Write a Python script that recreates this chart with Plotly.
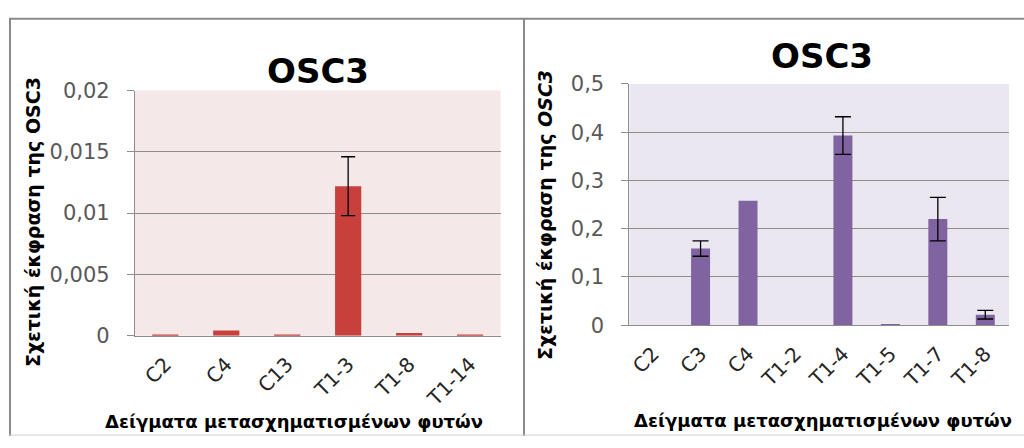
import plotly.graph_objects as go

# ---- data ----
left_categories = ["C2", "C4", "C13", "T1-3", "T1-8", "T1-14"]
left_values = [0.00003, 0.00042, 0.00004, 0.0122, 0.00022, 0.00004]
left_errors = [0, 0, 0, 0.0024, 0, 0]

right_categories = ["C2", "C3", "C4", "T1-2", "T1-4", "T1-5", "T1-7", "T1-8"]
right_values = [0, 0.159, 0.258, 0, 0.393, 0.002, 0.220, 0.022]
right_errors = [0, 0.016, 0, 0, 0.039, 0, 0.045, 0.009]

chart_title = "OSC3"
y_title_left = "<b>Σχετική έκφραση της OSC3</b>"
y_title_right = "<b>Σχετική έκφραση της <i>OSC3</i></b>"
x_title = "<b>Δείγματα μετασχηματισμένων φυτών</b>"

W, H = 1024, 448
def px(x):
    return x / W
def py(y):
    return 1 - y / H

FONT = "DejaVu Sans"
fig = go.Figure()

def add_panel(cats, vals, errs, color, xa, ya, width, cap):
    fig.add_trace(go.Bar(
        x=cats, y=vals,
        marker=dict(color=color, line=dict(width=0)),
        width=width, xaxis=xa, yaxis=ya, showlegend=False,
    ))
    ex = [c for c, e in zip(cats, errs) if e > 0]
    ey = [v for v, e in zip(vals, errs) if e > 0]
    ee = [e for e in errs if e > 0]
    fig.add_trace(go.Scatter(
        x=ex, y=ey, mode="markers", marker=dict(size=1, color="rgba(0,0,0,0)"),
        error_y=dict(type="data", array=ee, visible=True, color="black", thickness=1.3, width=cap),
        xaxis=xa, yaxis=ya, showlegend=False, hoverinfo="skip",
    ))

add_panel(left_categories, left_values, left_errors, "#c8403c", "x", "y", 0.43, 7)
add_panel(right_categories, right_values, right_errors, "#8064a2", "x2", "y2", 0.4, 8)

grid = "#8c8c8c"
common_y = dict(showgrid=True, gridcolor=grid, gridwidth=1, showline=True, linecolor=grid,
                ticks="outside", ticklen=7, tickcolor=grid, zeroline=False,
                ticklabelstandoff=13,
                tickfont=dict(family=FONT, size=21, color="#595959"))
common_x = dict(showgrid=False, showline=True, linecolor=grid, linewidth=1, ticks="",
                tickangle=-45, ticklabelstandoff=8,
                tickfont=dict(family=FONT, size=20, color="#262626"))

fig.update_layout(
    width=W, height=H,
    margin=dict(l=0, r=0, t=0, b=0),
    paper_bgcolor="white", plot_bgcolor="rgba(0,0,0,0)",
    separators=",.",
    xaxis=dict(domain=[px(134), px(500)], anchor="y", **common_x),
    yaxis=dict(domain=[py(342), py(83)], anchor="x", range=[0, 0.02], dtick=0.005, **common_y),
    xaxis2=dict(domain=[px(629), px(1009)], anchor="y2", **common_x),
    yaxis2=dict(domain=[py(331), py(76)], anchor="x2", range=[0, 0.5], dtick=0.1, **common_y),
)

# plot area backgrounds
fig.add_shape(type="rect", xref="x domain", yref="y domain", x0=0, x1=1, y0=0, y1=1,
              fillcolor="#f4e8e8", line=dict(width=0), layer="below")
fig.add_shape(type="rect", xref="x2 domain", yref="y2 domain", x0=0, x1=1, y0=0, y1=1,
              fillcolor="#ebe7f1", line=dict(width=0), layer="below")

# panel borders
border = "#8a8a8a"
fig.add_shape(type="line", xref="paper", yref="paper", x0=px(8), x1=1, y0=py(7), y1=py(7),
              line=dict(color=border, width=2))
fig.add_shape(type="line", xref="paper", yref="paper", x0=px(9), x1=px(9), y0=py(7), y1=0,
              line=dict(color=border, width=2))
fig.add_shape(type="line", xref="paper", yref="paper", x0=px(523.5), x1=px(523.5), y0=py(7), y1=0,
              line=dict(color=border, width=2))
fig.add_shape(type="line", xref="paper", yref="paper", x0=px(8), x1=1, y0=py(447), y1=py(447),
              line=dict(color="#d0d0d0", width=1))

ann = []
ann.append(dict(text=f"<b>{chart_title}</b>", x=px(317), y=py(62), xref="paper", yref="paper",
                showarrow=False, xanchor="center", yanchor="middle",
                font=dict(family=FONT, size=34, color="black")))
ann.append(dict(text=f"<b>{chart_title}</b>", x=px(822), y=py(47), xref="paper", yref="paper",
                showarrow=False, xanchor="center", yanchor="middle",
                font=dict(family=FONT, size=34, color="black")))
ann.append(dict(text=y_title_left, x=px(32), y=py(222), xref="paper", yref="paper", textangle=-90,
                showarrow=False, xanchor="center", yanchor="middle",
                font=dict(family=FONT, size=19, color="black")))
ann.append(dict(text=y_title_right, x=px(544), y=py(214), xref="paper", yref="paper", textangle=-90,
                showarrow=False, xanchor="center", yanchor="middle",
                font=dict(family=FONT, size=19, color="black")))
ann.append(dict(text=x_title, x=px(293), y=py(433), xref="paper", yref="paper",
                showarrow=False, xanchor="center", yanchor="middle",
                font=dict(family=FONT, size=18, color="black")))
ann.append(dict(text=x_title, x=px(823), y=py(432), xref="paper", yref="paper",
                showarrow=False, xanchor="center", yanchor="middle",
                font=dict(family=FONT, size=18, color="black")))
fig.update_layout(annotations=ann)

fig.write_html("out.html")
